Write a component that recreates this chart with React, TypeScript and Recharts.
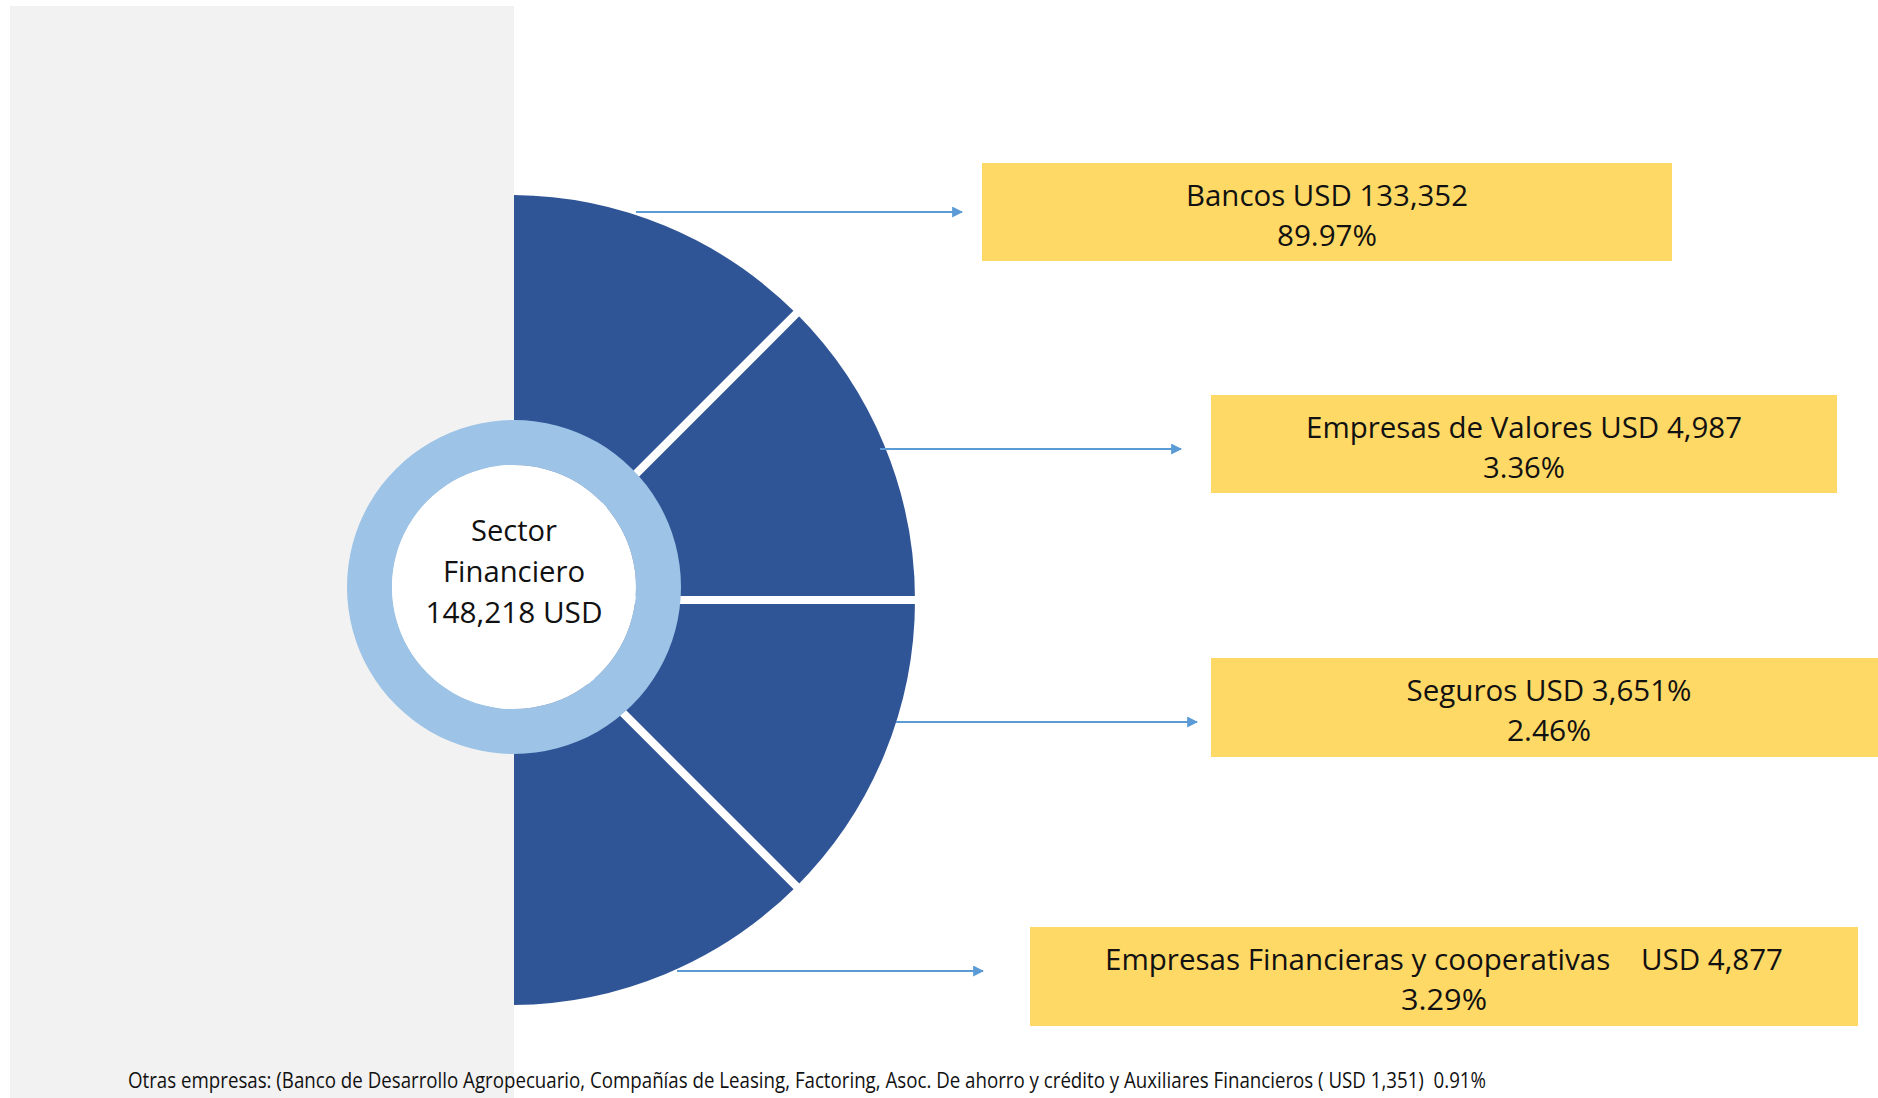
import { Cell, Pie, PieChart } from "recharts";

const segmentNames = ["Bancos", "Empresas de Valores", "Seguros", "Empresas Financieras y cooperativas"];
const segmentAmounts = ["USD 133,352", "USD 4,987", "USD 3,651%", "USD 4,877"];
const segmentShares = ["89.97%", "3.36%", "2.46%", "3.29%"];
// the four slices are drawn the same size in the original, not to scale
const segmentWeights = [1, 1, 1, 1];
const nameGaps = [" ", " ", " ", "    "];

const centerLines = ["Sector", "Financiero", "148,218 USD"];
const sectorTotal = [148218];

const footnote =
  "Otras empresas: (Banco de Desarrollo Agropecuario, Compañías de Leasing, Factoring, Asoc. De ahorro y crédito y Auxiliares Financieros ( USD 1,351)  0.91%";

const W = 1878;
const H = 1098;
const DARK = "#2F5597";
const RING = "#9DC3E6";
const YELLOW = "#FFD966";
const ARROW = "#5B9BD5";
const FONT = "'Liberation Sans Narrow', 'Open Sans', sans-serif";

// callout box geometry, one per segment
const boxes = [
  { x: 982, y: 163, w: 690, h: 98, ax1: 636, ax2: 962, ay: 212, cx: 1327, w1: 282, w2: 100 },
  { x: 1211, y: 395, w: 626, h: 98, ax1: 880, ax2: 1181, ay: 449, cx: 1524, w1: 436, w2: 82 },
  { x: 1211, y: 658, w: 700, h: 99, ax1: 896, ax2: 1197, ay: 722, cx: 1549, w1: 285, w2: 84 },
  { x: 1030, y: 927, w: 828, h: 99, ax1: 677, ax2: 983, ay: 971, cx: 1444, w1: 678, w2: 86 },
];

const centerWidths = [86, 142, 177];
const centerYs = [529, 570, 611];

const slices = segmentNames.map((name, i) => ({ name, value: segmentWeights[i] }));
const totalData = sectorTotal.map((value) => ({ name: "Sector Financiero", value }));

export default function App() {
  return (
    <div style={{ position: "absolute", left: 0, top: 0, width: W, height: H, background: "#fff" }}>
      <svg width={W} height={H} style={{ position: "absolute", left: 0, top: 0 }}>
        <rect x={10} y={6} width={504} height={H - 6} fill="#F2F2F2" />
      </svg>

      {/* half donut, clipped so the white outline does not show on the grey panel */}
      <div style={{ position: "absolute", left: 0, top: 0, clipPath: "inset(0 0 0 514px)" }}>
        <PieChart width={W} height={H} margin={{ top: 0, right: 0, bottom: 0, left: 0 }}>
          <Pie
            data={slices}
            dataKey="value"
            cx={510}
            cy={600}
            innerRadius={0}
            outerRadius={409}
            startAngle={90}
            endAngle={-90}
            stroke="#fff"
            strokeWidth={8}
            isAnimationActive={false}
          >
            {slices.map((s) => (
              <Cell key={s.name} fill={DARK} />
            ))}
          </Pie>
        </PieChart>
      </div>

      <div style={{ position: "absolute", left: 0, top: 0 }}>
        <PieChart width={W} height={H} margin={{ top: 0, right: 0, bottom: 0, left: 0 }}>
          <Pie
            data={totalData}
            dataKey="value"
            cx={514}
            cy={587}
            innerRadius={122}
            outerRadius={167}
            fill={RING}
            stroke="none"
            isAnimationActive={false}
          />
          <Pie
            data={totalData}
            dataKey="value"
            cx={514}
            cy={587}
            innerRadius={0}
            outerRadius={122}
            fill="#fff"
            stroke="none"
            isAnimationActive={false}
          />
        </PieChart>
      </div>

      <svg width={W} height={H} style={{ position: "absolute", left: 0, top: 0 }}>
        <defs>
          <marker id="head" viewBox="0 0 10 10" refX="9" refY="5" markerWidth="5.5" markerHeight="5.5" orient="auto">
            <path d="M0,0 L10,5 L0,10 z" fill={ARROW} />
          </marker>
        </defs>

        {centerLines.map((t, i) => (
          <text
            key={t}
            x={514}
            y={centerYs[i]}
            textAnchor="middle"
            dominantBaseline="central"
            fontFamily={FONT}
            fontSize={30}
            fill="#111"
            textLength={centerWidths[i]}
            lengthAdjust="spacingAndGlyphs"
          >
            {t}
          </text>
        ))}

        {boxes.map((b, i) => {
          const mid = b.y + b.h / 2;
          return (
            <g key={segmentNames[i]}>
              <line x1={b.ax1} y1={b.ay} x2={b.ax2} y2={b.ay} stroke={ARROW} strokeWidth={2} markerEnd="url(#head)" />
              <rect x={b.x} y={b.y} width={b.w} height={b.h} fill={YELLOW} />
              <text
                x={b.cx}
                y={mid - 18}
                textAnchor="middle"
                dominantBaseline="central"
                fontFamily={FONT}
                fontSize={30}
                fill="#111"
                style={{ whiteSpace: "pre" }}
                textLength={b.w1}
                lengthAdjust="spacingAndGlyphs"
              >
                {segmentNames[i] + nameGaps[i] + segmentAmounts[i]}
              </text>
              <text
                x={b.cx}
                y={mid + 22}
                textAnchor="middle"
                dominantBaseline="central"
                fontFamily={FONT}
                fontSize={30}
                fill="#111"
                textLength={b.w2}
                lengthAdjust="spacingAndGlyphs"
              >
                {segmentShares[i]}
              </text>
            </g>
          );
        })}

        <text
          x={128}
          y={1080}
          dominantBaseline="central"
          fontFamily={FONT}
          fontSize={21}
          fill="#111"
          style={{ whiteSpace: "pre" }}
          textLength={1358}
          lengthAdjust="spacingAndGlyphs"
        >
          {footnote}
        </text>
      </svg>
    </div>
  );
}
